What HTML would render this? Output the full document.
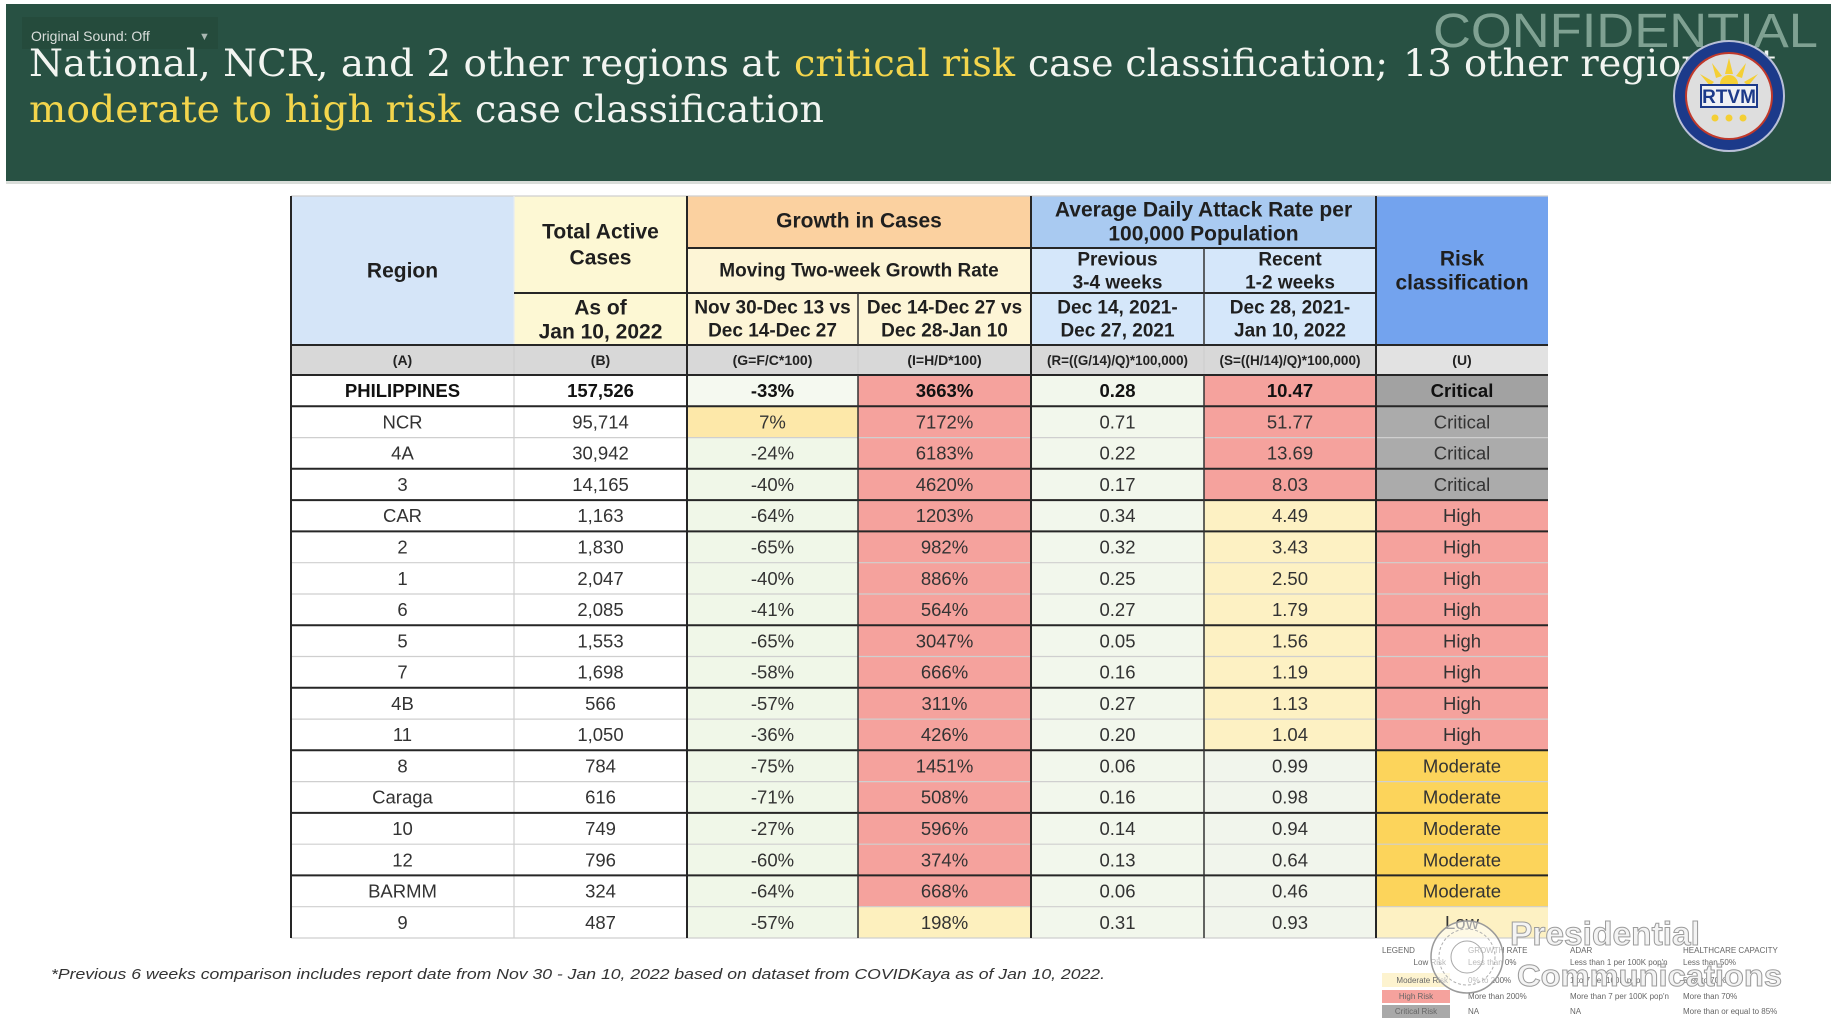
<!DOCTYPE html>
<html><head><meta charset="utf-8"><style>
html,body{margin:0;padding:0;background:#fff;width:1831px;height:1026px;overflow:hidden}
svg{display:block}
text{font-family:"Liberation Sans",Arial,sans-serif}
.c{text-anchor:middle;dominant-baseline:central}
.h21{font-size:21px;font-weight:bold;fill:#1f1f1f}
.h19{font-size:19px;font-weight:bold;fill:#1f1f1f}
.f{font-size:14px;font-weight:bold;fill:#222}
.d{font-size:18.5px;fill:#333}
.db{font-size:18.5px;fill:#111;font-weight:bold}
.t{font-family:"DejaVu Serif","Liberation Serif",serif;font-size:37px}
.lg{font-size:8px;fill:#666}
</style></head><body>
<svg width="1831" height="1026" viewBox="0 0 1831 1026" xmlns="http://www.w3.org/2000/svg">
<rect x="0" y="0" width="1831" height="1026" fill="#fff"/>
<!-- header band -->
<rect x="6" y="4" width="1825" height="177" fill="#285143"/>
<rect x="6" y="181" width="1825" height="3" fill="#d9ddd9"/>
<rect x="22" y="17" width="196" height="32" fill="#254b3c"/>
<text x="31" y="41" font-size="14" fill="#d9dedb">Original Sound: Off</text>
<text x="199" y="40" font-size="11" fill="#aab8b2">▼</text>
<text x="1433" y="47" font-size="48" fill="#7fa192" textLength="385" lengthAdjust="spacingAndGlyphs">CONFIDENTIAL</text>
<text class="t" x="29" y="76" fill="#f2f5f1" textLength="751" lengthAdjust="spacingAndGlyphs">National, NCR, and 2 other regions at</text>
<text class="t" x="794" y="76" fill="#f3d54c" textLength="221" lengthAdjust="spacingAndGlyphs">critical risk</text>
<text class="t" x="1028" y="76" fill="#f2f5f1" textLength="360" lengthAdjust="spacingAndGlyphs">case classification;</text>
<text class="t" x="1403" y="76" fill="#f2f5f1" textLength="373" lengthAdjust="spacingAndGlyphs">13 other regions at</text>
<text class="t" x="29" y="122" fill="#f3d54c" textLength="432" lengthAdjust="spacingAndGlyphs">moderate to high risk</text>
<text class="t" x="475" y="122" fill="#f2f5f1" textLength="349" lengthAdjust="spacingAndGlyphs">case classification</text>
<!-- RTVM logo -->
<g>
<circle cx="1729" cy="96" r="55" fill="#1c3a8a" stroke="#b9c0d8" stroke-width="2"/>
<circle cx="1729" cy="96" r="44" fill="#c0392b"/>
<circle cx="1729" cy="96" r="42" fill="#dedede"/>
<g fill="#f4cf34">
<polygon points="1729,58 1733,74 1725,74"/>
<polygon points="1712,63 1722,76 1716,78"/>
<polygon points="1746,63 1742,78 1736,76"/>
<polygon points="1700,74 1714,82 1710,86"/>
<polygon points="1758,74 1748,86 1744,82"/>
<circle cx="1729" cy="84" r="9"/>
</g>
<rect x="1701" y="85" width="56" height="22" fill="#eef0f4" stroke="#1c3a8a" stroke-width="2"/>
<text x="1729" y="103" font-size="19" font-weight="bold" fill="#1c3a8a" text-anchor="middle">RTVM</text>
<g fill="#f4cf34"><circle cx="1715" cy="118" r="3.5"/><circle cx="1729" cy="118" r="3.5"/><circle cx="1743" cy="118" r="3.5"/></g>
</g>

<!-- TABLE HEADER -->
<rect x="291" y="196" width="223" height="149" fill="#d5e5f8"/>
<rect x="514" y="196" width="173" height="149" fill="#fdf8d4"/>
<rect x="687" y="196" width="344" height="52" fill="#fbd1a0"/>
<rect x="687" y="248" width="344" height="97" fill="#fdf5d6"/>
<rect x="1031" y="196" width="345" height="52" fill="#a9caf1"/>
<rect x="1031" y="248" width="345" height="97" fill="#d5e7fa"/>
<rect x="1376" y="196" width="172" height="149" fill="#73a3ee"/>
<rect x="291" y="345" width="1085" height="30" fill="#d8d8d8"/>
<rect x="1376" y="345" width="172" height="30" fill="#e2e2e2"/>

<text class="c h21" x="402.5" y="271">Region</text>
<text class="c h21" x="600.5" y="232">Total Active</text>
<text class="c h21" x="600.5" y="258">Cases</text>
<text class="c h21" x="600.5" y="308">As of</text>
<text class="c h21" x="600.5" y="332">Jan 10, 2022</text>
<text class="c h21" x="859" y="221">Growth in Cases</text>
<text class="c h19" x="859" y="271">Moving Two-week Growth Rate</text>
<text class="c h19" x="772.5" y="308">Nov 30-Dec 13 vs</text>
<text class="c h19" x="772.5" y="331">Dec 14-Dec 27</text>
<text class="c h19" x="944.5" y="308">Dec 14-Dec 27 vs</text>
<text class="c h19" x="944.5" y="331">Dec 28-Jan 10</text>
<text class="c h21" x="1203.5" y="210">Average Daily Attack Rate per</text>
<text class="c h21" x="1203.5" y="234">100,000 Population</text>
<text class="c h19" x="1117.5" y="260">Previous</text>
<text class="c h19" x="1117.5" y="283">3-4 weeks</text>
<text class="c h19" x="1290" y="260">Recent</text>
<text class="c h19" x="1290" y="283">1-2 weeks</text>
<text class="c h19" x="1117.5" y="308">Dec 14, 2021-</text>
<text class="c h19" x="1117.5" y="331">Dec 27, 2021</text>
<text class="c h19" x="1290" y="308">Dec 28, 2021-</text>
<text class="c h19" x="1290" y="331">Jan 10, 2022</text>
<text class="c h21" x="1462" y="259">Risk</text>
<text class="c h21" x="1462" y="283">classification</text>

<text class="c f" x="402.5" y="360">(A)</text>
<text class="c f" x="600.5" y="360">(B)</text>
<text class="c f" x="772.5" y="360">(G=F/C*100)</text>
<text class="c f" x="944.5" y="360">(I=H/D*100)</text>
<text class="c f" x="1117.5" y="360" font-size="12" textLength="141" lengthAdjust="spacingAndGlyphs">(R=((G/14)/Q)*100,000)</text>
<text class="c f" x="1290" y="360" font-size="12" textLength="141" lengthAdjust="spacingAndGlyphs">(S=((H/14)/Q)*100,000)</text>
<text class="c f" x="1462" y="360">(U)</text>

<!-- DATA BACKGROUNDS -->
<rect x="291" y="375" width="396" height="563" fill="#ffffff"/>
<rect x="687" y="375" width="171" height="563" fill="#f0f7e8"/>
<rect x="687" y="375" width="171" height="31.3" fill="#f5f9f0"/>
<rect x="687" y="406.3" width="171" height="31.3" fill="#fde8a9"/>
<rect x="858" y="375" width="173" height="531.7" fill="#f5a29d"/>
<rect x="858" y="906.7" width="173" height="31.3" fill="#fdf0be"/>
<rect x="1031" y="375" width="173" height="563" fill="#f2f7ec"/>
<rect x="1204" y="375" width="172" height="125.1" fill="#f5a29d"/>
<rect x="1204" y="500.1" width="172" height="250.2" fill="#fdf1c3"/>
<rect x="1204" y="750.3" width="172" height="187.7" fill="#f1f5ec"/>
<rect x="1376" y="375" width="172" height="31.3" fill="#a2a2a2"/>
<rect x="1376" y="406.3" width="172" height="93.8" fill="#ababab"/>
<rect x="1376" y="500.1" width="172" height="250.2" fill="#f5a29d"/>
<rect x="1376" y="750.3" width="172" height="156.4" fill="#fcd45b"/>
<rect x="1376" y="906.7" width="172" height="31.3" fill="#fdf1c3"/>

<!-- thin row lines -->
<g stroke="#cfcfcf" stroke-width="1.2">
<line x1="291" y1="437.6" x2="1548" y2="437.6"/>
<line x1="291" y1="562.7" x2="1548" y2="562.7"/>
<line x1="291" y1="594.0" x2="1548" y2="594.0"/>
<line x1="291" y1="656.5" x2="1548" y2="656.5"/>
<line x1="291" y1="719.1" x2="1548" y2="719.1"/>
<line x1="291" y1="781.6" x2="1548" y2="781.6"/>
<line x1="291" y1="844.2" x2="1548" y2="844.2"/>
<line x1="291" y1="906.7" x2="1548" y2="906.7"/>
<line x1="291" y1="938" x2="1548" y2="938"/>
<line x1="291" y1="196" x2="1548" y2="196"/>
<line x1="514" y1="345" x2="514" y2="938"/>
<line x1="514" y1="196" x2="514" y2="345" stroke="#e6ecf2"/>
<line x1="858" y1="345" x2="858" y2="375"/>
<line x1="1204" y1="345" x2="1204" y2="375"/>
</g>
<!-- thick lines -->
<g stroke="#262626" stroke-width="2">
<line x1="291" y1="345" x2="1548" y2="345"/>
<line x1="291" y1="375" x2="1548" y2="375"/>
<line x1="291" y1="406.3" x2="1548" y2="406.3"/>
<line x1="291" y1="468.8" x2="1548" y2="468.8"/>
<line x1="291" y1="500.1" x2="1548" y2="500.1"/>
<line x1="291" y1="531.4" x2="1548" y2="531.4"/>
<line x1="291" y1="625.2" x2="1548" y2="625.2"/>
<line x1="291" y1="687.8" x2="1548" y2="687.8"/>
<line x1="291" y1="750.3" x2="1548" y2="750.3"/>
<line x1="291" y1="812.9" x2="1548" y2="812.9"/>
<line x1="291" y1="875.4" x2="1548" y2="875.4"/>
<line x1="687" y1="248" x2="1376" y2="248"/>
<line x1="514" y1="293" x2="1376" y2="293"/>
<line x1="291" y1="196" x2="291" y2="938"/>
<line x1="687" y1="196" x2="687" y2="938"/>
<line x1="1031" y1="196" x2="1031" y2="938"/>
<line x1="1376" y1="196" x2="1376" y2="938"/>
</g>
<g stroke="#333" stroke-width="1.5">
<line x1="858" y1="293" x2="858" y2="345"/>
<line x1="858" y1="375" x2="858" y2="938"/>
<line x1="1204" y1="248" x2="1204" y2="345"/>
<line x1="1204" y1="375" x2="1204" y2="938"/>
</g>

<!-- DATA TEXT -->
<g class="c">
<text class="c db" x="402.5" y="390.6">PHILIPPINES</text><text class="c db" x="600.5" y="390.6">157,526</text><text class="c db" x="772.5" y="390.6">-33%</text><text class="c db" x="944.5" y="390.6">3663%</text><text class="c db" x="1117.5" y="390.6">0.28</text><text class="c db" x="1290" y="390.6">10.47</text><text class="c db" x="1462" y="390.6">Critical</text>

<text class="c d" x="402.5" y="421.9">NCR</text><text class="c d" x="600.5" y="421.9">95,714</text><text class="c d" x="772.5" y="421.9">7%</text><text class="c d" x="944.5" y="421.9">7172%</text><text class="c d" x="1117.5" y="421.9">0.71</text><text class="c d" x="1290" y="421.9">51.77</text><text class="c d" x="1462" y="421.9">Critical</text>

<text class="c d" x="402.5" y="453.2">4A</text><text class="c d" x="600.5" y="453.2">30,942</text><text class="c d" x="772.5" y="453.2">-24%</text><text class="c d" x="944.5" y="453.2">6183%</text><text class="c d" x="1117.5" y="453.2">0.22</text><text class="c d" x="1290" y="453.2">13.69</text><text class="c d" x="1462" y="453.2">Critical</text>

<text class="c d" x="402.5" y="484.5">3</text><text class="c d" x="600.5" y="484.5">14,165</text><text class="c d" x="772.5" y="484.5">-40%</text><text class="c d" x="944.5" y="484.5">4620%</text><text class="c d" x="1117.5" y="484.5">0.17</text><text class="c d" x="1290" y="484.5">8.03</text><text class="c d" x="1462" y="484.5">Critical</text>

<text class="c d" x="402.5" y="515.7">CAR</text><text class="c d" x="600.5" y="515.7">1,163</text><text class="c d" x="772.5" y="515.7">-64%</text><text class="c d" x="944.5" y="515.7">1203%</text><text class="c d" x="1117.5" y="515.7">0.34</text><text class="c d" x="1290" y="515.7">4.49</text><text class="c d" x="1462" y="515.7">High</text>

<text class="c d" x="402.5" y="547.0">2</text><text class="c d" x="600.5" y="547.0">1,830</text><text class="c d" x="772.5" y="547.0">-65%</text><text class="c d" x="944.5" y="547.0">982%</text><text class="c d" x="1117.5" y="547.0">0.32</text><text class="c d" x="1290" y="547.0">3.43</text><text class="c d" x="1462" y="547.0">High</text>

<text class="c d" x="402.5" y="578.3">1</text><text class="c d" x="600.5" y="578.3">2,047</text><text class="c d" x="772.5" y="578.3">-40%</text><text class="c d" x="944.5" y="578.3">886%</text><text class="c d" x="1117.5" y="578.3">0.25</text><text class="c d" x="1290" y="578.3">2.50</text><text class="c d" x="1462" y="578.3">High</text>

<text class="c d" x="402.5" y="609.6">6</text><text class="c d" x="600.5" y="609.6">2,085</text><text class="c d" x="772.5" y="609.6">-41%</text><text class="c d" x="944.5" y="609.6">564%</text><text class="c d" x="1117.5" y="609.6">0.27</text><text class="c d" x="1290" y="609.6">1.79</text><text class="c d" x="1462" y="609.6">High</text>

<text class="c d" x="402.5" y="640.9">5</text><text class="c d" x="600.5" y="640.9">1,553</text><text class="c d" x="772.5" y="640.9">-65%</text><text class="c d" x="944.5" y="640.9">3047%</text><text class="c d" x="1117.5" y="640.9">0.05</text><text class="c d" x="1290" y="640.9">1.56</text><text class="c d" x="1462" y="640.9">High</text>

<text class="c d" x="402.5" y="672.1">7</text><text class="c d" x="600.5" y="672.1">1,698</text><text class="c d" x="772.5" y="672.1">-58%</text><text class="c d" x="944.5" y="672.1">666%</text><text class="c d" x="1117.5" y="672.1">0.16</text><text class="c d" x="1290" y="672.1">1.19</text><text class="c d" x="1462" y="672.1">High</text>

<text class="c d" x="402.5" y="703.4">4B</text><text class="c d" x="600.5" y="703.4">566</text><text class="c d" x="772.5" y="703.4">-57%</text><text class="c d" x="944.5" y="703.4">311%</text><text class="c d" x="1117.5" y="703.4">0.27</text><text class="c d" x="1290" y="703.4">1.13</text><text class="c d" x="1462" y="703.4">High</text>

<text class="c d" x="402.5" y="734.7">11</text><text class="c d" x="600.5" y="734.7">1,050</text><text class="c d" x="772.5" y="734.7">-36%</text><text class="c d" x="944.5" y="734.7">426%</text><text class="c d" x="1117.5" y="734.7">0.20</text><text class="c d" x="1290" y="734.7">1.04</text><text class="c d" x="1462" y="734.7">High</text>

<text class="c d" x="402.5" y="766.0">8</text><text class="c d" x="600.5" y="766.0">784</text><text class="c d" x="772.5" y="766.0">-75%</text><text class="c d" x="944.5" y="766.0">1451%</text><text class="c d" x="1117.5" y="766.0">0.06</text><text class="c d" x="1290" y="766.0">0.99</text><text class="c d" x="1462" y="766.0">Moderate</text>

<text class="c d" x="402.5" y="797.2">Caraga</text><text class="c d" x="600.5" y="797.2">616</text><text class="c d" x="772.5" y="797.2">-71%</text><text class="c d" x="944.5" y="797.2">508%</text><text class="c d" x="1117.5" y="797.2">0.16</text><text class="c d" x="1290" y="797.2">0.98</text><text class="c d" x="1462" y="797.2">Moderate</text>

<text class="c d" x="402.5" y="828.5">10</text><text class="c d" x="600.5" y="828.5">749</text><text class="c d" x="772.5" y="828.5">-27%</text><text class="c d" x="944.5" y="828.5">596%</text><text class="c d" x="1117.5" y="828.5">0.14</text><text class="c d" x="1290" y="828.5">0.94</text><text class="c d" x="1462" y="828.5">Moderate</text>

<text class="c d" x="402.5" y="859.8">12</text><text class="c d" x="600.5" y="859.8">796</text><text class="c d" x="772.5" y="859.8">-60%</text><text class="c d" x="944.5" y="859.8">374%</text><text class="c d" x="1117.5" y="859.8">0.13</text><text class="c d" x="1290" y="859.8">0.64</text><text class="c d" x="1462" y="859.8">Moderate</text>

<text class="c d" x="402.5" y="891.1">BARMM</text><text class="c d" x="600.5" y="891.1">324</text><text class="c d" x="772.5" y="891.1">-64%</text><text class="c d" x="944.5" y="891.1">668%</text><text class="c d" x="1117.5" y="891.1">0.06</text><text class="c d" x="1290" y="891.1">0.46</text><text class="c d" x="1462" y="891.1">Moderate</text>

<text class="c d" x="402.5" y="922.3">9</text><text class="c d" x="600.5" y="922.3">487</text><text class="c d" x="772.5" y="922.3">-57%</text><text class="c d" x="944.5" y="922.3">198%</text><text class="c d" x="1117.5" y="922.3">0.31</text><text class="c d" x="1290" y="922.3">0.93</text><text class="c d" x="1462" y="922.3">Low</text>
</g>

<!-- footnote -->
<text x="51" y="979" font-size="15" font-style="italic" fill="#333" textLength="1054" lengthAdjust="spacingAndGlyphs">*Previous 6 weeks comparison includes report date from Nov 30 - Jan 10, 2022 based on dataset from COVIDKaya as of Jan 10, 2022.</text>

<!-- legend (bottom right) -->
<rect x="1382" y="973" width="68" height="14" fill="#fdf3cf"/>
<rect x="1382" y="990" width="68" height="13" fill="#f5a29d"/>
<rect x="1382" y="1005" width="68" height="13" fill="#a9a9a9"/>
<text class="lg" x="1382" y="953">LEGEND</text>
<text class="lg" x="1468" y="953">GROWTH RATE</text>
<text class="lg" x="1570" y="953">ADAR</text>
<text class="lg" x="1683" y="953">HEALTHCARE CAPACITY</text>
<text class="lg" x="1446" y="965" text-anchor="end">Low Risk</text>
<text class="lg" x="1468" y="965">Less than 0%</text>
<text class="lg" x="1570" y="965">Less than 1 per 100K pop'n</text>
<text class="lg" x="1683" y="965">Less than 50%</text>
<text class="lg" x="1448" y="983" text-anchor="end">Moderate Risk</text>
<text class="lg" x="1468" y="983">0% to 200%</text>
<text class="lg" x="1570" y="983">1 to 7 per 100K pop'n</text>
<text class="lg" x="1683" y="983">50% to 70%</text>
<text class="lg" x="1416" y="999" text-anchor="middle">High Risk</text>
<text class="lg" x="1468" y="999">More than 200%</text>
<text class="lg" x="1570" y="999">More than 7 per 100K pop'n</text>
<text class="lg" x="1683" y="999">More than 70%</text>
<text class="lg" x="1416" y="1014" text-anchor="middle">Critical Risk</text>
<text class="lg" x="1468" y="1014">NA</text>
<text class="lg" x="1570" y="1014">NA</text>
<text class="lg" x="1683" y="1014">More than or equal to 85%</text>

<!-- watermark -->
<circle cx="1467" cy="957" r="36" fill="#ffffff" fill-opacity="0.55" stroke="#9a9a9a" stroke-width="1.5"/>
<circle cx="1467" cy="957" r="28" fill="none" stroke="#b0b0b0" stroke-width="1" stroke-dasharray="3 2"/>
<circle cx="1467" cy="957" r="16" fill="none" stroke="#a8a8a8" stroke-width="1"/>
<text x="1510" y="945" font-size="33" font-weight="bold" fill="#f4f4f4" stroke="#9c9c9c" stroke-width="1" textLength="190" lengthAdjust="spacingAndGlyphs">Presidential</text>
<text x="1517" y="986" font-size="31" font-weight="bold" fill="#f4f4f4" stroke="#9c9c9c" stroke-width="1" textLength="265" lengthAdjust="spacingAndGlyphs">Communications</text>
</svg>
</body></html>
